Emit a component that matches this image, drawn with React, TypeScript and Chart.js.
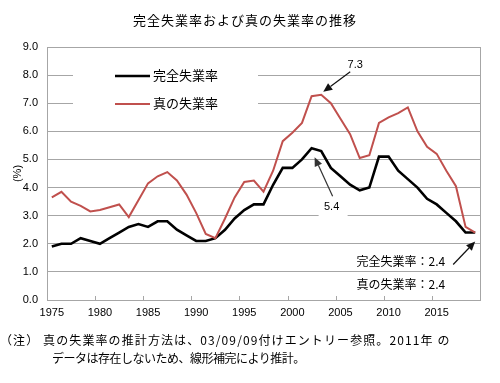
import React, { useEffect, useRef } from 'react';
import { Chart, registerables } from 'chart.js';

Chart.register(...registerables);

const yearLabels = [
  '1975', '1976', '1977', '1978', '1979', '1980', '1981', '1982', '1983', '1984',
  '1985', '1986', '1987', '1988', '1989', '1990', '1991', '1992', '1993', '1994',
  '1995', '1996', '1997', '1998', '1999', '2000', '2001', '2002', '2003', '2004',
  '2005', '2006', '2007', '2008', '2009', '2010', '2011', '2012', '2013', '2014',
  '2015', '2016', '2017', '2018', '2019',
];

// 完全失業率 (%)
const officialRate = [
  1.9, 2.0, 2.0, 2.2, 2.1, 2.0, 2.2, 2.4, 2.6, 2.7,
  2.6, 2.8, 2.8, 2.5, 2.3, 2.1, 2.1, 2.2, 2.5, 2.9,
  3.2, 3.4, 3.4, 4.1, 4.7, 4.7, 5.0, 5.4, 5.3, 4.7,
  4.4, 4.1, 3.9, 4.0, 5.1, 5.1, 4.6, 4.3, 4.0, 3.6,
  3.4, 3.1, 2.8, 2.4, 2.4,
];

// 真の失業率 (%)
const trueRate = [
  3.65, 3.85, 3.5, 3.35, 3.15, 3.2, 3.3, 3.4, 2.95, 3.55,
  4.15, 4.4, 4.55, 4.25, 3.75, 3.1, 2.35, 2.2, 2.9, 3.65,
  4.2, 4.25, 3.85, 4.6, 5.65, 5.95, 6.3, 7.25, 7.3, 7.0,
  6.45, 5.9, 5.05, 5.15, 6.3, 6.5, 6.65, 6.85, 6.0, 5.45,
  5.2, 4.6, 4.05, 2.6, 2.4,
];

const seriesNames = ['完全失業率', '真の失業率'];
const yAxisTitle = '(%)';
const chartTitle = '完全失業率および真の失業率の推移';
const noteLine1 = '（注） 真の失業率の推計方法は、03/09/09付けエントリー参照。2011年 の';
const noteLine2 = 'データは存在しないため、線形補完により推計。';

const peakTrueIndex = 28; // 2003
const peakOfficialIndex = 27; // 2002
const lastIndex = yearLabels.length - 1;

const FONT = "'Liberation Sans', 'Noto Sans CJK JP', sans-serif";
const JP = "'Noto Sans CJK JP', 'Liberation Sans', sans-serif";
const GRID = '#a6a6a6';
const RED = '#c0504d';

function drawArrow(ctx: CanvasRenderingContext2D, x1: number, y1: number, x2: number, y2: number, color: string) {
  const ang = Math.atan2(y2 - y1, x2 - x1);
  const head = 9;
  const w = 4;
  const bx = x2 - head * Math.cos(ang);
  const by = y2 - head * Math.sin(ang);
  ctx.save();
  ctx.strokeStyle = color;
  ctx.fillStyle = color;
  ctx.lineWidth = 1.2;
  ctx.beginPath();
  ctx.moveTo(x1, y1);
  ctx.lineTo(bx, by);
  ctx.stroke();
  ctx.beginPath();
  ctx.moveTo(x2, y2);
  ctx.lineTo(bx + w * Math.sin(ang), by - w * Math.cos(ang));
  ctx.lineTo(bx - w * Math.sin(ang), by + w * Math.cos(ang));
  ctx.closePath();
  ctx.fill();
  ctx.restore();
}

const overlayPlugin = {
  id: 'overlay',
  beforeDatasetsDraw(chart: any) {
    const { ctx, chartArea: a, scales } = chart;
    const x = scales.x;
    ctx.save();
    // right border
    ctx.strokeStyle = GRID;
    ctx.lineWidth = 1;
    ctx.beginPath();
    ctx.moveTo(Math.round(a.right) + 0.5, a.top);
    ctx.lineTo(Math.round(a.right) + 0.5, a.bottom);
    ctx.stroke();
    // inner tick marks every 5 years (category boundaries)
    for (let i = 5; i < yearLabels.length; i += 5) {
      const px = Math.round((x.getPixelForValue(i - 1) + x.getPixelForValue(i)) / 2) + 0.5;
      ctx.beginPath();
      ctx.moveTo(px, a.bottom - 4);
      ctx.lineTo(px, a.bottom);
      ctx.stroke();
    }
    // legend box
    ctx.fillStyle = '#ffffff';
    ctx.fillRect(a.left + 26, a.top + 14, 185, 57);
    const rows = [
      { name: seriesNames[0], color: '#000000', width: 2.6, y: a.top + 29 },
      { name: seriesNames[1], color: RED, width: 2, y: a.top + 57 },
    ];
    rows.forEach((r) => {
      ctx.strokeStyle = r.color;
      ctx.lineWidth = r.width;
      ctx.beginPath();
      ctx.moveTo(a.left + 68, r.y);
      ctx.lineTo(a.left + 103, r.y);
      ctx.stroke();
      ctx.fillStyle = '#000';
      ctx.font = `13px ${JP}`;
      ctx.textBaseline = 'middle';
      ctx.textAlign = 'left';
      ctx.fillText(r.name, a.left + 106, r.y - 1);
    });
    // white box behind 5.4 label
    const meta0 = chart.getDatasetMeta(0);
    const p54 = meta0.data[peakOfficialIndex];
    ctx.fillStyle = '#ffffff';
    ctx.fillRect(p54.x + 7, p54.y + 50, 29, 22);
    ctx.restore();
  },
  afterDatasetsDraw(chart: any) {
    const { ctx } = chart;
    const p0 = chart.getDatasetMeta(0).data;
    const p1 = chart.getDatasetMeta(1).data;
    ctx.save();
    ctx.fillStyle = '#000';
    ctx.textBaseline = 'middle';
    // 7.3
    const pt = p1[peakTrueIndex];
    drawArrow(ctx, pt.x + 29, pt.y - 23, pt.x + 2, pt.y - 3, '#111');
    ctx.font = `11px ${FONT}`;
    ctx.textAlign = 'center';
    ctx.fillText(trueRate[peakTrueIndex].toFixed(1), pt.x + 34, pt.y - 30);
    // 5.4
    const pb = p0[peakOfficialIndex];
    drawArrow(ctx, pb.x + 21, pb.y + 48, pb.x + 3, pb.y + 9, '#333');
    ctx.fillText(officialRate[peakOfficialIndex].toFixed(1), pb.x + 20, pb.y + 59);
    // 2.4 (last)
    const pl = p0[lastIndex];
    drawArrow(ctx, pl.x - 22, pl.y + 32, pl.x, pl.y + 9, '#111');
    ctx.font = `12px ${JP}`;
    ctx.textAlign = 'right';
    ctx.fillText(`${seriesNames[0]}：${officialRate[lastIndex].toFixed(1)}`, pl.x - 30, pl.y + 29);
    ctx.fillText(`${seriesNames[1]}：${trueRate[lastIndex].toFixed(1)}`, pl.x - 30, pl.y + 52);
    ctx.restore();
  },
};

export default function App() {
  const canvasRef = useRef<HTMLCanvasElement | null>(null);

  useEffect(() => {
    const canvas = canvasRef.current;
    if (!canvas) return;
    const chart = new Chart(canvas, {
      type: 'line',
      data: {
        labels: yearLabels,
        datasets: [
          {
            label: seriesNames[0],
            data: officialRate,
            borderColor: '#000000',
            backgroundColor: '#000000',
            borderWidth: 2.6,
            pointRadius: 0,
            tension: 0,
            order: 1,
          },
          {
            label: seriesNames[1],
            data: trueRate,
            borderColor: RED,
            backgroundColor: RED,
            borderWidth: 2,
            pointRadius: 0,
            tension: 0,
            order: 0,
          },
        ],
      },
      options: {
        responsive: false,
        animation: false,
        devicePixelRatio: 1,
        layout: { padding: { left: 0, right: 20, top: 47, bottom: 0 } },
        plugins: {
          legend: { display: false },
          title: { display: false },
          tooltip: { enabled: false },
        },
        scales: {
          x: {
            type: 'category',
            offset: true,
            grid: { display: false, drawTicks: false },
            border: { display: true, color: GRID, width: 1 },
            ticks: {
              autoSkip: false,
              maxRotation: 0,
              minRotation: 0,
              padding: 6,
              color: '#000',
              font: { family: FONT, size: 11 },
              callback: (_v: any, i: number) => (Number(yearLabels[i]) % 5 === 0 ? yearLabels[i] : ''),
            },
            afterFit: (s: any) => {
              s.height = 83;
            },
          },
          y: {
            min: 0,
            max: 9,
            grid: { color: GRID, drawTicks: false, lineWidth: 1 },
            border: { display: true, color: GRID, width: 1 },
            ticks: {
              stepSize: 1,
              padding: 9,
              color: '#000',
              font: { family: FONT, size: 11 },
              callback: (v: any) => Number(v).toFixed(1),
            },
            title: {
              display: true,
              text: yAxisTitle,
              color: '#000',
              padding: { top: 11, bottom: 0 },
              font: { family: FONT, size: 11 },
            },
            afterFit: (s: any) => {
              s.width = 47;
            },
          },
        },
      },
      plugins: [overlayPlugin],
    } as any);
    return () => chart.destroy();
  }, []);

  return (
    <div
      style={{
        position: 'fixed',
        left: 0,
        top: 0,
        width: 500,
        height: 383,
        background: '#fff',
        overflow: 'hidden',
      }}
    >
      <canvas ref={canvasRef} width={500} height={383} style={{ position: 'absolute', left: 0, top: 0, width: 500, height: 383 }} />
      <div
        style={{
          position: 'absolute',
          left: 0,
          top: 10,
          width: 490,
          textAlign: 'center',
          fontFamily: JP,
          fontSize: 13,
          letterSpacing: '1px',
          lineHeight: '20px',
          color: '#000',
        }}
      >
        {chartTitle}
      </div>
      <div
        style={{
          position: 'absolute',
          left: 0,
          top: 331,
          fontFamily: JP,
          fontSize: 12,
          letterSpacing: '1.1px',
          lineHeight: '18px',
          whiteSpace: 'nowrap',
          color: '#000',
        }}
      >
        {noteLine1}
      </div>
      <div
        style={{
          position: 'absolute',
          left: 52,
          top: 349,
          fontFamily: JP,
          fontSize: 12,
          letterSpacing: '-0.5px',
          lineHeight: '18px',
          whiteSpace: 'nowrap',
          color: '#000',
        }}
      >
        {noteLine2}
      </div>
    </div>
  );
}
